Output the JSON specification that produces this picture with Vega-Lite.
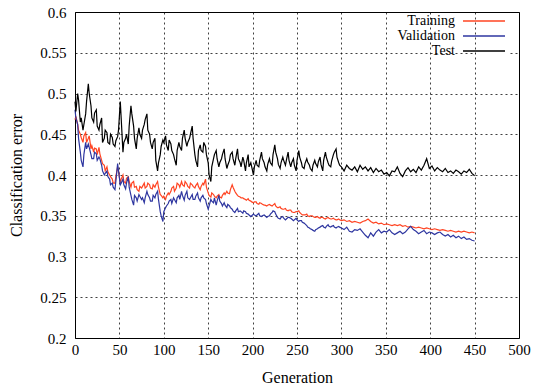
{
  "$schema": "https://vega.github.io/schema/vega-lite/v6.json",
  "width": 444,
  "height": 326,
  "autosize": {"type": "none"},
  "padding": {"left": 75, "top": 12, "right": 14, "bottom": 50},
  "background": "white",
  "config": {
    "font": "Times New Roman, Liberation Serif, serif",
    "view": {"stroke": "black", "strokeWidth": 1},
    "axis": {
      "labelFont": "Times New Roman, Liberation Serif, serif", "labelFontSize": 15, "labelColor": "black",
      "titleFont": "Times New Roman, Liberation Serif, serif", "titleFontSize": 16, "titleFontWeight": "normal", "titleColor": "black",
      "grid": true, "gridColor": "black", "gridDash": [2, 3], "gridOpacity": 0.75, "gridWidth": 1,
      "domain": false, "ticks": false, "labelFlush": false
    },
    "legend": {
      "orient": "none", "legendX": 401, "legendY": 1, "title": null,
      "symbolType": "M-3,0H3", "symbolSize": 196, "symbolStrokeWidth": 1.3,
      "labelFont": "Times New Roman, Liberation Serif, serif", "labelFontSize": 14, "labelColor": "black",
      "labelAlign": "right", "labelOffset": -37, "rowPadding": -1,
      "fillColor": "white", "padding": 0
    }
  },
  "data": {"values": [
{"g":0,"Training":0.468,"Validation":0.48,"Test":0.49},
{"g":1,"Training":0.472,"Validation":0.47,"Test":0.478},
{"g":3,"Training":0.462,"Validation":0.462,"Test":0.5},
{"g":4,"Training":0.455,"Validation":0.445,"Test":0.492},
{"g":6,"Training":0.45,"Validation":0.428,"Test":0.465},
{"g":7,"Training":0.446,"Validation":0.418,"Test":0.47},
{"g":9,"Training":0.44,"Validation":0.41,"Test":0.455},
{"g":10,"Training":0.448,"Validation":0.425,"Test":0.462},
{"g":12,"Training":0.452,"Validation":0.44,"Test":0.475},
{"g":13,"Training":0.44,"Validation":0.432,"Test":0.49},
{"g":15,"Training":0.445,"Validation":0.438,"Test":0.512},
{"g":16,"Training":0.448,"Validation":0.434,"Test":0.5},
{"g":18,"Training":0.432,"Validation":0.425,"Test":0.485},
{"g":19,"Training":0.436,"Validation":0.42,"Test":0.47},
{"g":21,"Training":0.428,"Validation":0.42,"Test":0.465},
{"g":22,"Training":0.433,"Validation":0.428,"Test":0.476},
{"g":24,"Training":0.432,"Validation":0.426,"Test":0.48},
{"g":25,"Training":0.425,"Validation":0.418,"Test":0.46},
{"g":27,"Training":0.434,"Validation":0.422,"Test":0.455},
{"g":28,"Training":0.426,"Validation":0.42,"Test":0.462},
{"g":30,"Training":0.418,"Validation":0.412,"Test":0.47},
{"g":31,"Training":0.414,"Validation":0.405,"Test":0.44},
{"g":33,"Training":0.412,"Validation":0.4,"Test":0.445},
{"g":34,"Training":0.405,"Validation":0.402,"Test":0.455},
{"g":36,"Training":0.41,"Validation":0.405,"Test":0.452},
{"g":37,"Training":0.404,"Validation":0.398,"Test":0.44},
{"g":39,"Training":0.4,"Validation":0.395,"Test":0.438},
{"g":40,"Training":0.398,"Validation":0.388,"Test":0.45},
{"g":42,"Training":0.395,"Validation":0.39,"Test":0.446},
{"g":43,"Training":0.39,"Validation":0.385,"Test":0.438},
{"g":45,"Training":0.39,"Validation":0.382,"Test":0.435},
{"g":46,"Training":0.398,"Validation":0.392,"Test":0.442},
{"g":48,"Training":0.41,"Validation":0.414,"Test":0.447},
{"g":49,"Training":0.405,"Validation":0.405,"Test":0.455},
{"g":51,"Training":0.39,"Validation":0.388,"Test":0.49},
{"g":52,"Training":0.395,"Validation":0.39,"Test":0.47},
{"g":54,"Training":0.4,"Validation":0.395,"Test":0.428},
{"g":55,"Training":0.392,"Validation":0.388,"Test":0.44},
{"g":57,"Training":0.39,"Validation":0.383,"Test":0.445},
{"g":58,"Training":0.396,"Validation":0.39,"Test":0.45},
{"g":60,"Training":0.398,"Validation":0.398,"Test":0.438},
{"g":61,"Training":0.392,"Validation":0.385,"Test":0.46},
{"g":63,"Training":0.385,"Validation":0.375,"Test":0.485},
{"g":64,"Training":0.39,"Validation":0.37,"Test":0.475},
{"g":66,"Training":0.392,"Validation":0.363,"Test":0.46},
{"g":67,"Training":0.385,"Validation":0.375,"Test":0.445},
{"g":69,"Training":0.386,"Validation":0.372,"Test":0.432},
{"g":70,"Training":0.382,"Validation":0.368,"Test":0.445},
{"g":72,"Training":0.38,"Validation":0.376,"Test":0.458},
{"g":73,"Training":0.386,"Validation":0.374,"Test":0.45},
{"g":75,"Training":0.384,"Validation":0.37,"Test":0.445},
{"g":76,"Training":0.386,"Validation":0.372,"Test":0.455},
{"g":78,"Training":0.39,"Validation":0.366,"Test":0.462},
{"g":79,"Training":0.384,"Validation":0.372,"Test":0.468},
{"g":81,"Training":0.386,"Validation":0.38,"Test":0.475},
{"g":82,"Training":0.39,"Validation":0.376,"Test":0.455},
{"g":84,"Training":0.388,"Validation":0.372,"Test":0.45},
{"g":85,"Training":0.384,"Validation":0.368,"Test":0.44},
{"g":87,"Training":0.383,"Validation":0.368,"Test":0.432},
{"g":88,"Training":0.388,"Validation":0.375,"Test":0.44},
{"g":90,"Training":0.385,"Validation":0.372,"Test":0.445},
{"g":91,"Training":0.388,"Validation":0.376,"Test":0.418},
{"g":93,"Training":0.392,"Validation":0.38,"Test":0.405},
{"g":94,"Training":0.385,"Validation":0.37,"Test":0.415},
{"g":96,"Training":0.376,"Validation":0.355,"Test":0.425},
{"g":97,"Training":0.375,"Validation":0.35,"Test":0.435},
{"g":99,"Training":0.372,"Validation":0.343,"Test":0.443},
{"g":100,"Training":0.374,"Validation":0.355,"Test":0.44},
{"g":102,"Training":0.37,"Validation":0.36,"Test":0.448},
{"g":103,"Training":0.374,"Validation":0.362,"Test":0.437},
{"g":105,"Training":0.378,"Validation":0.365,"Test":0.43},
{"g":106,"Training":0.376,"Validation":0.368,"Test":0.443},
{"g":108,"Training":0.38,"Validation":0.37,"Test":0.438},
{"g":109,"Training":0.384,"Validation":0.365,"Test":0.43},
{"g":111,"Training":0.386,"Validation":0.372,"Test":0.425},
{"g":112,"Training":0.38,"Validation":0.37,"Test":0.42},
{"g":114,"Training":0.384,"Validation":0.366,"Test":0.412},
{"g":115,"Training":0.39,"Validation":0.372,"Test":0.43},
{"g":117,"Training":0.388,"Validation":0.375,"Test":0.44},
{"g":118,"Training":0.385,"Validation":0.37,"Test":0.435},
{"g":120,"Training":0.392,"Validation":0.38,"Test":0.43},
{"g":121,"Training":0.388,"Validation":0.375,"Test":0.445},
{"g":123,"Training":0.386,"Validation":0.369,"Test":0.455},
{"g":124,"Training":0.392,"Validation":0.375,"Test":0.445},
{"g":126,"Training":0.389,"Validation":0.38,"Test":0.435},
{"g":127,"Training":0.386,"Validation":0.372,"Test":0.44},
{"g":129,"Training":0.384,"Validation":0.37,"Test":0.445},
{"g":130,"Training":0.39,"Validation":0.372,"Test":0.45},
{"g":132,"Training":0.388,"Validation":0.376,"Test":0.46},
{"g":133,"Training":0.386,"Validation":0.37,"Test":0.445},
{"g":135,"Training":0.384,"Validation":0.37,"Test":0.425},
{"g":136,"Training":0.387,"Validation":0.374,"Test":0.418},
{"g":138,"Training":0.39,"Validation":0.378,"Test":0.41},
{"g":139,"Training":0.386,"Validation":0.372,"Test":0.43},
{"g":141,"Training":0.382,"Validation":0.368,"Test":0.437},
{"g":142,"Training":0.386,"Validation":0.372,"Test":0.43},
{"g":144,"Training":0.39,"Validation":0.375,"Test":0.428},
{"g":145,"Training":0.388,"Validation":0.372,"Test":0.44},
{"g":147,"Training":0.395,"Validation":0.37,"Test":0.435},
{"g":148,"Training":0.385,"Validation":0.365,"Test":0.425},
{"g":150,"Training":0.378,"Validation":0.358,"Test":0.415},
{"g":151,"Training":0.375,"Validation":0.362,"Test":0.4},
{"g":153,"Training":0.373,"Validation":0.37,"Test":0.392},
{"g":154,"Training":0.378,"Validation":0.368,"Test":0.41},
{"g":156,"Training":0.376,"Validation":0.366,"Test":0.42},
{"g":157,"Training":0.374,"Validation":0.372,"Test":0.425},
{"g":159,"Training":0.372,"Validation":0.363,"Test":0.43},
{"g":160,"Training":0.374,"Validation":0.368,"Test":0.42},
{"g":162,"Training":0.376,"Validation":0.375,"Test":0.41},
{"g":163,"Training":0.373,"Validation":0.368,"Test":0.415},
{"g":165,"Training":0.372,"Validation":0.365,"Test":0.42},
{"g":166,"Training":0.375,"Validation":0.362,"Test":0.425},
{"g":168,"Training":0.378,"Validation":0.366,"Test":0.432},
{"g":169,"Training":0.376,"Validation":0.363,"Test":0.42},
{"g":171,"Training":0.38,"Validation":0.36,"Test":0.408},
{"g":172,"Training":0.378,"Validation":0.364,"Test":0.412},
{"g":174,"Training":0.377,"Validation":0.362,"Test":0.418},
{"g":175,"Training":0.382,"Validation":0.36,"Test":0.425},
{"g":177,"Training":0.388,"Validation":0.358,"Test":0.428},
{"g":178,"Training":0.385,"Validation":0.356,"Test":0.42},
{"g":180,"Training":0.38,"Validation":0.354,"Test":0.412},
{"g":181,"Training":0.378,"Validation":0.356,"Test":0.42},
{"g":183,"Training":0.375,"Validation":0.359,"Test":0.432},
{"g":184,"Training":0.374,"Validation":0.355,"Test":0.42},
{"g":186,"Training":0.373,"Validation":0.356,"Test":0.415},
{"g":187,"Training":0.372,"Validation":0.355,"Test":0.41},
{"g":189,"Training":0.372,"Validation":0.353,"Test":0.422},
{"g":190,"Training":0.371,"Validation":0.356,"Test":0.418},
{"g":192,"Training":0.37,"Validation":0.355,"Test":0.405},
{"g":193,"Training":0.369,"Validation":0.353,"Test":0.415},
{"g":195,"Training":0.371,"Validation":0.352,"Test":0.425},
{"g":196,"Training":0.369,"Validation":0.351,"Test":0.41},
{"g":198,"Training":0.368,"Validation":0.349,"Test":0.415},
{"g":199,"Training":0.367,"Validation":0.35,"Test":0.41},
{"g":201,"Training":0.366,"Validation":0.352,"Test":0.4},
{"g":202,"Training":0.367,"Validation":0.351,"Test":0.41},
{"g":204,"Training":0.367,"Validation":0.35,"Test":0.418},
{"g":205,"Training":0.365,"Validation":0.351,"Test":0.412},
{"g":207,"Training":0.364,"Validation":0.353,"Test":0.41},
{"g":208,"Training":0.366,"Validation":0.35,"Test":0.418},
{"g":210,"Training":0.365,"Validation":0.349,"Test":0.428},
{"g":211,"Training":0.364,"Validation":0.35,"Test":0.42},
{"g":213,"Training":0.363,"Validation":0.351,"Test":0.415},
{"g":214,"Training":0.363,"Validation":0.35,"Test":0.41},
{"g":216,"Training":0.362,"Validation":0.348,"Test":0.405},
{"g":217,"Training":0.363,"Validation":0.349,"Test":0.413},
{"g":219,"Training":0.364,"Validation":0.35,"Test":0.42},
{"g":220,"Training":0.363,"Validation":0.352,"Test":0.415},
{"g":222,"Training":0.362,"Validation":0.354,"Test":0.412},
{"g":223,"Training":0.363,"Validation":0.356,"Test":0.425},
{"g":225,"Training":0.365,"Validation":0.355,"Test":0.437},
{"g":226,"Training":0.362,"Validation":0.352,"Test":0.428},
{"g":228,"Training":0.36,"Validation":0.348,"Test":0.42},
{"g":229,"Training":0.36,"Validation":0.347,"Test":0.413},
{"g":231,"Training":0.361,"Validation":0.346,"Test":0.408},
{"g":232,"Training":0.359,"Validation":0.348,"Test":0.415},
{"g":234,"Training":0.358,"Validation":0.349,"Test":0.422},
{"g":235,"Training":0.358,"Validation":0.347,"Test":0.418},
{"g":237,"Training":0.359,"Validation":0.345,"Test":0.412},
{"g":238,"Training":0.357,"Validation":0.346,"Test":0.418},
{"g":240,"Training":0.356,"Validation":0.348,"Test":0.428},
{"g":241,"Training":0.357,"Validation":0.348,"Test":0.418},
{"g":243,"Training":0.357,"Validation":0.347,"Test":0.41},
{"g":244,"Training":0.355,"Validation":0.346,"Test":0.415},
{"g":246,"Training":0.354,"Validation":0.344,"Test":0.42},
{"g":247,"Training":0.354,"Validation":0.345,"Test":0.412},
{"g":249,"Training":0.355,"Validation":0.347,"Test":0.405},
{"g":250,"Training":0.355,"Validation":0.345,"Test":0.418},
{"g":252,"Training":0.356,"Validation":0.343,"Test":0.43},
{"g":253,"Training":0.354,"Validation":0.344,"Test":0.422},
{"g":255,"Training":0.352,"Validation":0.344,"Test":0.415},
{"g":256,"Training":0.351,"Validation":0.342,"Test":0.41},
{"g":258,"Training":0.351,"Validation":0.341,"Test":0.408},
{"g":259,"Training":0.351,"Validation":0.34,"Test":0.414},
{"g":261,"Training":0.352,"Validation":0.338,"Test":0.42},
{"g":262,"Training":0.35,"Validation":0.336,"Test":0.416},
{"g":264,"Training":0.349,"Validation":0.335,"Test":0.412},
{"g":265,"Training":0.35,"Validation":0.334,"Test":0.408},
{"g":267,"Training":0.35,"Validation":0.333,"Test":0.405},
{"g":268,"Training":0.349,"Validation":0.332,"Test":0.412},
{"g":270,"Training":0.348,"Validation":0.331,"Test":0.418},
{"g":271,"Training":0.348,"Validation":0.333,"Test":0.414},
{"g":273,"Training":0.349,"Validation":0.334,"Test":0.41},
{"g":274,"Training":0.348,"Validation":0.335,"Test":0.416},
{"g":276,"Training":0.347,"Validation":0.336,"Test":0.422},
{"g":277,"Training":0.348,"Validation":0.337,"Test":0.413},
{"g":279,"Training":0.348,"Validation":0.338,"Test":0.405},
{"g":280,"Training":0.347,"Validation":0.336,"Test":0.418},
{"g":282,"Training":0.346,"Validation":0.335,"Test":0.428},
{"g":283,"Training":0.347,"Validation":0.337,"Test":0.422},
{"g":285,"Training":0.348,"Validation":0.339,"Test":0.415},
{"g":286,"Training":0.347,"Validation":0.337,"Test":0.412},
{"g":288,"Training":0.346,"Validation":0.336,"Test":0.41},
{"g":289,"Training":0.346,"Validation":0.337,"Test":0.417},
{"g":291,"Training":0.347,"Validation":0.338,"Test":0.425},
{"g":292,"Training":0.346,"Validation":0.336,"Test":0.428},
{"g":294,"Training":0.345,"Validation":0.335,"Test":0.432},
{"g":295,"Training":0.345,"Validation":0.336,"Test":0.422},
{"g":297,"Training":0.346,"Validation":0.337,"Test":0.415},
{"g":298,"Training":0.345,"Validation":0.336,"Test":0.412},
{"g":300,"Training":0.344,"Validation":0.335,"Test":0.41},
{"g":303,"Training":0.345,"Validation":0.333,"Test":0.405},
{"g":306,"Training":0.343,"Validation":0.336,"Test":0.412},
{"g":309,"Training":0.344,"Validation":0.331,"Test":0.408},
{"g":312,"Training":0.342,"Validation":0.33,"Test":0.406},
{"g":315,"Training":0.343,"Validation":0.333,"Test":0.41},
{"g":318,"Training":0.342,"Validation":0.332,"Test":0.404},
{"g":321,"Training":0.341,"Validation":0.334,"Test":0.412},
{"g":324,"Training":0.343,"Validation":0.33,"Test":0.407},
{"g":327,"Training":0.344,"Validation":0.326,"Test":0.41},
{"g":330,"Training":0.346,"Validation":0.323,"Test":0.405},
{"g":333,"Training":0.343,"Validation":0.329,"Test":0.409},
{"g":336,"Training":0.341,"Validation":0.325,"Test":0.403},
{"g":339,"Training":0.342,"Validation":0.33,"Test":0.408},
{"g":342,"Training":0.34,"Validation":0.333,"Test":0.404},
{"g":345,"Training":0.341,"Validation":0.329,"Test":0.406},
{"g":348,"Training":0.339,"Validation":0.331,"Test":0.401},
{"g":351,"Training":0.34,"Validation":0.33,"Test":0.403},
{"g":354,"Training":0.339,"Validation":0.333,"Test":0.399},
{"g":357,"Training":0.338,"Validation":0.329,"Test":0.405},
{"g":360,"Training":0.339,"Validation":0.327,"Test":0.404},
{"g":363,"Training":0.338,"Validation":0.329,"Test":0.41},
{"g":366,"Training":0.339,"Validation":0.331,"Test":0.402},
{"g":369,"Training":0.337,"Validation":0.328,"Test":0.398},
{"g":372,"Training":0.338,"Validation":0.33,"Test":0.405},
{"g":375,"Training":0.336,"Validation":0.334,"Test":0.409},
{"g":378,"Training":0.337,"Validation":0.337,"Test":0.404},
{"g":381,"Training":0.336,"Validation":0.333,"Test":0.407},
{"g":384,"Training":0.335,"Validation":0.331,"Test":0.403},
{"g":387,"Training":0.336,"Validation":0.328,"Test":0.41},
{"g":390,"Training":0.335,"Validation":0.33,"Test":0.406},
{"g":393,"Training":0.334,"Validation":0.332,"Test":0.412},
{"g":396,"Training":0.335,"Validation":0.328,"Test":0.42},
{"g":399,"Training":0.334,"Validation":0.33,"Test":0.408},
{"g":402,"Training":0.333,"Validation":0.329,"Test":0.411},
{"g":405,"Training":0.334,"Validation":0.327,"Test":0.405},
{"g":408,"Training":0.333,"Validation":0.329,"Test":0.409},
{"g":411,"Training":0.332,"Validation":0.33,"Test":0.406},
{"g":414,"Training":0.333,"Validation":0.327,"Test":0.404},
{"g":417,"Training":0.332,"Validation":0.325,"Test":0.408},
{"g":420,"Training":0.331,"Validation":0.327,"Test":0.403},
{"g":423,"Training":0.332,"Validation":0.324,"Test":0.405},
{"g":426,"Training":0.331,"Validation":0.326,"Test":0.402},
{"g":429,"Training":0.33,"Validation":0.323,"Test":0.406},
{"g":432,"Training":0.331,"Validation":0.325,"Test":0.404},
{"g":435,"Training":0.33,"Validation":0.322,"Test":0.401},
{"g":438,"Training":0.331,"Validation":0.324,"Test":0.405},
{"g":441,"Training":0.33,"Validation":0.321,"Test":0.403},
{"g":444,"Training":0.329,"Validation":0.322,"Test":0.407},
{"g":447,"Training":0.33,"Validation":0.32,"Test":0.402},
{"g":450,"Training":0.329,"Validation":0.319,"Test":0.399}
  ]},
  "transform": [{"fold": ["Training", "Validation", "Test"], "as": ["series", "error"]}],
  "mark": {"type": "line", "strokeWidth": 1.2, "interpolate": "linear"},
  "encoding": {
    "x": {"field": "g", "type": "quantitative", "title": "Generation",
          "scale": {"domain": [0, 500], "nice": false},
          "axis": {"values": [0,50,100,150,200,250,300,350,400,450,500], "labelPadding": 4, "titlePadding": 12}},
    "y": {"field": "error", "type": "quantitative", "title": "Classification error",
          "scale": {"domain": [0.2, 0.6], "nice": false, "zero": false},
          "axis": {"values": [0.2,0.25,0.3,0.35,0.4,0.45,0.5,0.55,0.6], "format": "~g", "labelPadding": 9, "titlePadding": 15}},
    "color": {"field": "series", "type": "nominal",
              "scale": {"domain": ["Training", "Validation", "Test"], "range": ["#ff4422", "#2e36a0", "#000000"]}},
    "order": {"field": "g", "type": "quantitative"}
  }
}
